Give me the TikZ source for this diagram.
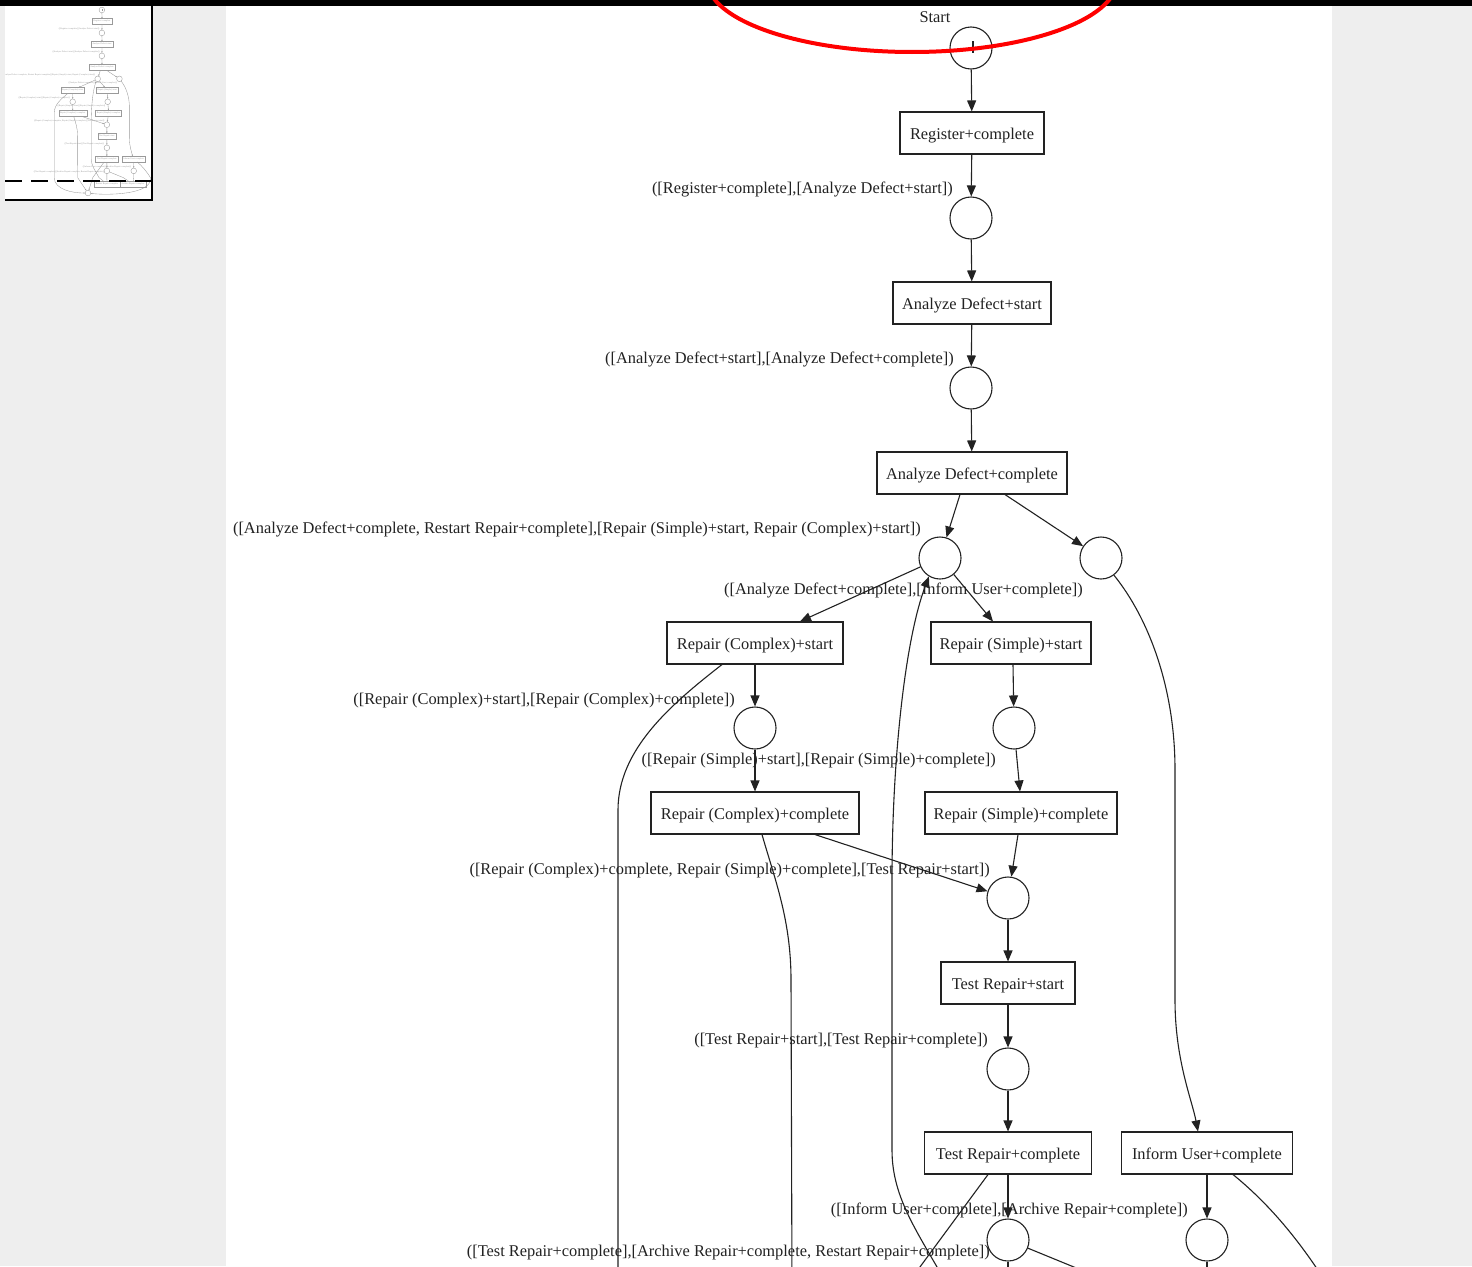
\documentclass[tikz,border=0pt]{standalone}
\usepackage{fontspec}
\setmainfont{Liberation Serif}
\usetikzlibrary{arrows.meta}

\definecolor{pagebg}{HTML}{EEEEEE}
\definecolor{inkc}{HTML}{222222}
\definecolor{minic}{HTML}{9A9A9A}

\newcommand\graphfont{\fontsize{16.4pt}{19pt}\selectfont}

\tikzset{
  place/.style={circle, draw=inkc, line width=1.1pt, minimum size=42pt, inner sep=0pt},
  trans/.style={rectangle, draw=inkc, line width=1.1pt, minimum height=42pt, inner sep=0pt,
                font=\graphfont, text=inkc, text height=12pt, text depth=0pt},
  elabel/.style={anchor=east, inner sep=0pt, font=\graphfont, text=inkc,
                 text height=12pt, text depth=0pt},
  toplabel/.style={inner sep=0pt, font=\graphfont, text=inkc, text height=12pt, text depth=0pt},
  arc/.style={draw=inkc, line width=1.1pt, -{Triangle[length=11pt,width=9pt]}},
  wire/.style={draw=inkc, line width=1.1pt},
  thumbstyle/.style={
    place/.style={circle, draw=minic, line width=0.35pt, minimum size=42pt, inner sep=0pt},
    trans/.style={rectangle, draw=minic, line width=0.35pt, minimum height=42pt, inner sep=0pt,
                  font=\graphfont, text=minic},
    elabel/.style={anchor=east, inner sep=0pt, font=\graphfont, text=minic},
    toplabel/.style={inner sep=0pt, font=\graphfont, text=minic},
    arc/.style={draw=minic, line width=0.35pt, -{Triangle[length=1.6pt,width=1.2pt]}},
    wire/.style={draw=minic, line width=0.35pt}
  }
}

% The Petri net; #1 is a prefix for the node names
\newcommand\petrinet[1]{%
  % places and transitions
  \node[place] (#1start) at (971,48) {};
  \draw[wire] (973,41) -- (973,53);
  \node[toplabel] (#1startlbl) at (935,17) {Start};
  \node[trans, minimum width=144pt] (#1reg) at (972,133) {Register+complete};
  \node[place] (#1p1) at (971,218) {};
  \node[trans, minimum width=158pt] (#1ads) at (972,303) {Analyze Defect+start};
  \node[place] (#1p2) at (971,388) {};
  \node[trans, minimum width=190pt] (#1adc) at (972,473) {Analyze Defect+complete};
  \node[place] (#1p3) at (940,558) {};
  \node[place] (#1p4) at (1101,558) {};
  \node[trans, minimum width=176pt] (#1rcs) at (755,643) {Repair (Complex)+start};
  \node[trans, minimum width=160pt] (#1rss) at (1011,643) {Repair (Simple)+start};
  \node[place] (#1p5) at (755,728) {};
  \node[place] (#1p6) at (1014,728) {};
  \node[trans, minimum width=208pt] (#1rcc) at (755,813) {Repair (Complex)+complete};
  \node[trans, minimum width=192pt] (#1rsc) at (1021,813) {Repair (Simple)+complete};
  \node[place] (#1p7) at (1008,898) {};
  \node[trans, minimum width=134pt] (#1trs) at (1008,983) {Test Repair+start};
  \node[place] (#1p8) at (1008,1069) {};
  \node[trans, minimum width=167pt] (#1trc) at (1008,1153) {Test Repair+complete};
  \node[trans, minimum width=171pt] (#1iu) at (1207,1153) {Inform User+complete};
  \node[place] (#1p9) at (1008,1240) {};
  \node[place] (#1p10) at (1207,1240) {};
  % place labels
  \node[elabel] (#1l1) at (953,187) {([Register+complete],[Analyze Defect+start])};
  \node[elabel] (#1l2) at (954,357) {([Analyze Defect+start],[Analyze Defect+complete])};
  \node[elabel] (#1l3) at (921,527) {([Analyze Defect+complete, Restart Repair+complete],[Repair (Simple)+start, Repair (Complex)+start])};
  \node[elabel] (#1l4) at (1083,588) {([Analyze Defect+complete],[Inform User+complete])};
  \node[elabel] (#1l5) at (735,698) {([Repair (Complex)+start],[Repair (Complex)+complete])};
  \node[elabel] (#1l6) at (996,758) {([Repair (Simple)+start],[Repair (Simple)+complete])};
  \node[elabel] (#1l7) at (990,868) {([Repair (Complex)+complete, Repair (Simple)+complete],[Test Repair+start])};
  \node[elabel] (#1l8) at (988,1038) {([Test Repair+start],[Test Repair+complete])};
  \node[elabel] (#1l9) at (1188,1208) {([Inform User+complete],[Archive Repair+complete])};
  \node[elabel] (#1l10) at (990,1250) {([Test Repair+complete],[Archive Repair+complete, Restart Repair+complete])};
  % loose ends below the visible part
  \coordinate (#1endA) at (618,1290);
  \coordinate (#1endB) at (792,1290);
  \coordinate (#1endC) at (950,1290);
  \coordinate (#1endD) at (903,1290);
  \coordinate (#1endE) at (1130,1290);
  \coordinate (#1endF) at (1008,1290);
  \coordinate (#1endG) at (1207,1290);
  \coordinate (#1endH) at (1332,1292);
  % arcs
  \draw[arc] (#1start) -- (#1reg);
  \draw[arc] (#1reg) -- (#1p1);
  \draw[arc] (#1p1) -- (#1ads);
  \draw[arc] (#1ads) -- (#1p2);
  \draw[arc] (#1p2) -- (#1adc);
  \draw[arc] ([xshift=-12pt]#1adc.south) -- (#1p3);
  \draw[arc] ([xshift=33pt]#1adc.south) -- (#1p4);
  \draw[arc] (#1p3) -- ([xshift=45pt]#1rcs.north);
  \draw[arc] (#1p3) -- ([xshift=-18pt]#1rss.north);
  \draw[arc] (#1rcs) -- (#1p5);
  \draw[arc] ([xshift=2pt]#1rss.south) -- (#1p6);
  \draw[arc] (#1p5) -- (#1rcc);
  \draw[arc] (#1p6) -- ([xshift=-1pt]#1rsc.north);
  \draw[arc] ([xshift=-3pt]#1rsc.south) -- (#1p7);
  \draw[arc] ([xshift=60pt]#1rcc.south) -- (#1p7);
  \draw[arc] (#1p7) -- (#1trs);
  \draw[arc] (#1trs) -- (#1p8);
  \draw[arc] (#1p8) -- (#1trc);
  \draw[arc] (#1trc) -- (#1p9);
  \draw[arc] (#1iu) -- (#1p10);
  \draw[arc] (#1p4.-53) .. controls (1150,620) and (1175,690) .. (1175,770)
             -- (1175,1000) .. controls (1175,1060) and (1192,1100) .. ([xshift=-9pt]#1iu.north);
  \draw[arc] (#1endC) .. controls (920,1235) and (892,1200) .. (892,1150)
             -- (892,880) .. controls (892,760) and (905,640) .. (#1p3.239);
  \draw[wire] ([xshift=-33pt]#1rcs.south) .. controls (670,705) and (618,750) .. (618,810) -- (#1endA);
  \draw[wire] ([xshift=7pt]#1rcc.south) .. controls (775,880) and (791,920) .. (791,980) -- (#1endB);
  \draw[wire] ([xshift=-20pt]#1trc.south) -- (#1endD);
  \draw[wire] (#1p9) -- (#1endE);
  \draw[wire] (#1p9) -- (#1endF);
  \draw[wire] (#1p10) -- (#1endG);
  \draw[wire] ([xshift=26pt]#1iu.south) .. controls (1268,1203) and (1300,1240) .. (#1endH);
}

\begin{document}
\begin{tikzpicture}[x=1pt, y=-1pt]
  \path[use as bounding box, clip] (0,0) rectangle (1472,1266);
  % window background and page
  \fill[pagebg] (0,0) rectangle (1472,1266);
  \fill[white] (226,6) rectangle (1332,1266);
  \fill[white] (5,6) rectangle (152,200);

  % overview panel
  \begin{scope}
    \clip (5,6) rectangle (152,200);
    \begin{scope}[shift={(-29.2,3.5)}, scale=0.135, transform shape, thumbstyle]
      \petrinet{m}
      \node[trans, minimum width=190pt] (mrr) at (1009,1337) {Restart Repair+complete};
      \node[trans, minimum width=190pt] (mar) at (1201,1337) {Archive Repair+complete};
      \node[place] (mend) at (868,1404) {};
      \draw[wire] (mendF) -- (mrr);
      \draw[wire] (mendG) -- (mar);
      \draw[wire] (mendE) -- (mar);
      \draw[wire] (mendC) -- (mrr);
      \draw[arc] (mendA) .. controls (618,1380) and (760,1404) .. (mend);
      \draw[arc] (mendB) -- (mend);
      \draw[arc] (mendD) -- (mend);
      \draw[arc] (mendH) .. controls (1340,1420) and (1000,1420) .. (mend);
    \end{scope}
  \end{scope}
  \draw[black, line width=2.6pt, dash pattern=on 17pt off 9pt] (5,181) -- (152,181);
  \draw[black, line width=2pt] (152,6) -- (152,200) -- (5,200);

  % main view
  \petrinet{}

  % top bar and highlight
  \fill[black] (0,0) rectangle (1472,6);
  \draw[red, line width=4pt] (912,-20) ellipse [x radius=205pt, y radius=72pt];
\end{tikzpicture}
\end{document}
